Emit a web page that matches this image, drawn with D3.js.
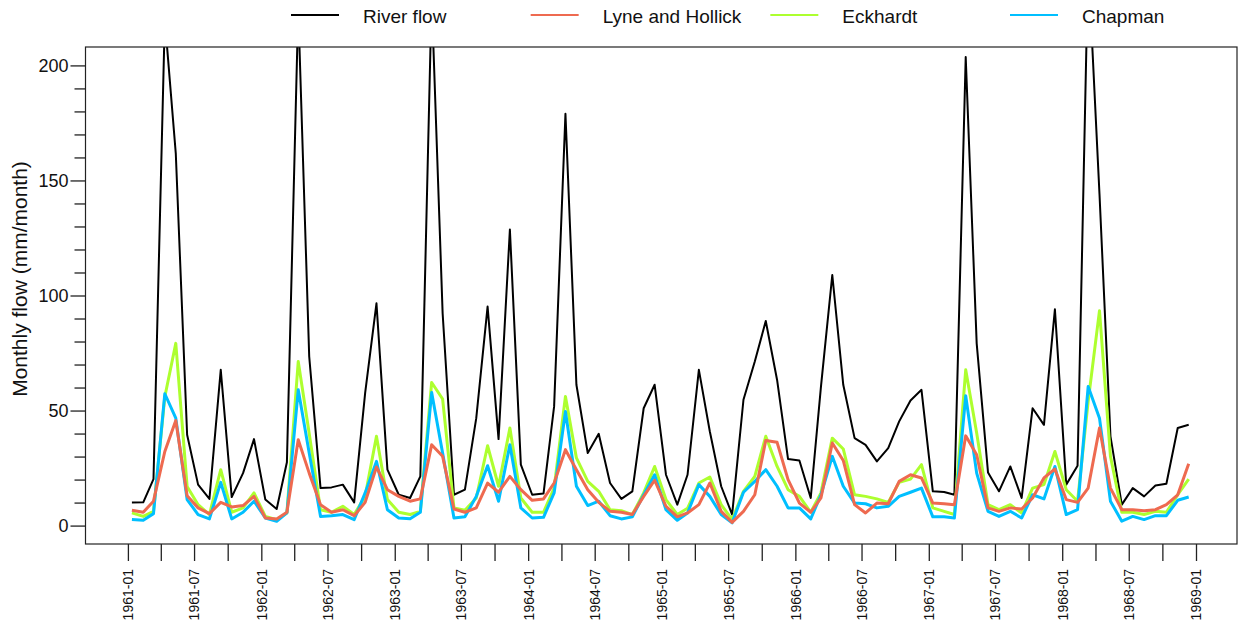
<!DOCTYPE html>
<html>
<head>
<meta charset="utf-8">
<script src="https://cdn.jsdelivr.net/npm/d3@7"></script>
<style>
  html, body { margin: 0; padding: 0; background: #fff; }
  svg { display: block; font-family: "Liberation Sans", Arial, Helvetica, sans-serif; }
</style>
</head>
<body>
<svg id="chart" width="1243" height="623"></svg>
<script>
// ---- data: monthly values, Jan 1961 .. Dec 1968 ----
const startYear = 1961;
const nMonths = 96;

const riverFlow = [
  10, 10.1, 20.2, 220, 161.7, 39.5, 17.8, 11.6, 67.7, 12.4, 22.8, 37.6,
  11.3, 7.2, 27.5, 225, 73.5, 16.3, 16.6, 17.8, 10.1, 57.6, 96.6, 24.3,
  13.4, 12.0, 21.4, 230, 92.3, 13.4, 15.6, 46.7, 95.2, 37.6, 128.7, 26.5,
  13.4, 13.9, 51.8, 179, 61.2, 31.5, 39.9, 18.5, 11.6, 14.9, 51.0, 61.2,
  22.1, 9.1, 22.1, 67.7, 40.9, 17.1, 4.8, 54.7, 71.3, 88.9, 63.3, 28.9,
  28.3, 12.0, 60.4, 108.9, 61.2, 38.0, 35.1, 27.9, 33.7, 45.3, 54.4, 59.0,
  14.9, 14.6, 13.4, 203.6, 79.2, 23.1, 14.9, 25.7, 12.0, 51.0, 43.8, 94.0,
  17.8, 26.0, 245, 144, 38.8, 9.1, 16.3, 12.7, 17.4, 18.2, 42.4, 43.8
];
const lyneHollick = [
  6.7, 5.8, 10.6, 32.2, 45.7, 13.0, 7.7, 5.2, 10.1, 8.1, 8.7, 12.7,
  3.3, 2.9, 5.8, 37.3, 22.8, 9.1, 5.8, 6.9, 4.3, 10.1, 25.5, 15.6,
  12.7, 10.6, 11.6, 35.1, 30.1, 7.2, 5.8, 7.7, 18.5, 14.5, 21.4, 15.6,
  11.0, 11.6, 18.5, 33.0, 24.3, 15.6, 10.1, 6.2, 5.8, 4.8, 12.7, 19.7,
  8.4, 3.8, 5.5, 9.1, 18.5, 6.2, 1.4, 6.2, 13.4, 37.0, 36.2, 20.0,
  9.8, 5.8, 12.0, 35.9, 28.3, 9.1, 5.5, 9.8, 9.5, 19.2, 22.1, 20.7,
  9.8, 9.5, 9.1, 39.0, 30.8, 7.7, 6.2, 7.7, 7.2, 12.0, 20.7, 24.6,
  11.3, 10.1, 16.3, 42.4, 16.3, 6.9, 6.9, 6.5, 6.9, 9.1, 13.4, 26.9
];
const eckhardt = [
  5.5, 4.0, 6.2, 56, 79.2, 17, 9.1, 4.8, 24.3, 5.8, 7.7, 14.2,
  4.0, 2.6, 5.5, 71.3, 40, 6.9, 5.8, 8.4, 4.8, 12.7, 38.8, 11.3,
  5.8, 4.8, 6.2, 62.2, 55.0, 7.7, 6.7, 12.0, 34.7, 17.1, 42.4, 12.0,
  5.8, 5.8, 16.3, 56.1, 29.4, 19.2, 14.9, 6.9, 6.5, 4.8, 14.2, 25.7,
  11.3, 4.8, 7.5, 18.5, 21.1, 9.1, 2.6, 14.9, 21.4, 38.8, 25.7, 15.6,
  12.7, 5.8, 14.2, 38.0, 33.3, 13.4, 12.7, 11.6, 10.1, 18.8, 20.2, 26.5,
  7.7, 6.2, 4.8, 67.7, 40.2, 9.1, 6.9, 9.1, 5.5, 16.3, 17.8, 32.2,
  15.6, 10.6, 54, 93.4, 30.1, 5.8, 5.8, 4.8, 6.2, 5.8, 13.4, 20.2
];
const chapman = [
  2.6, 2.3, 5.2, 57.3, 46.7, 11.3, 4.8, 2.9, 18.8, 2.9, 5.8, 10.6,
  3.3, 1.9, 5.5, 59.0, 31.5, 4.0, 4.3, 4.8, 2.6, 14.2, 27.9, 6.9,
  3.3, 3.0, 5.8, 57.8, 31.5, 3.3, 3.8, 12.7, 26.0, 10.6, 35.1, 7.7,
  3.3, 3.6, 14.2, 49.6, 17.1, 8.7, 10.6, 4.3, 2.9, 3.8, 13.4, 22.1,
  6.9, 2.3, 5.5, 17.8, 12.7, 4.8, 1.2, 14.5, 19.2, 24.3, 17.1, 7.7,
  7.7, 2.9, 13.4, 30.1, 17.1, 9.8, 9.5, 7.7, 8.4, 12.7, 14.5, 16.3,
  3.8, 3.8, 3.3, 56.4, 22.8, 6.2, 4.0, 6.2, 3.3, 13.4, 11.6, 25.7,
  4.8, 6.9, 60.4, 46.7, 10.6, 1.9, 4.0, 2.6, 4.3, 4.3, 11.0, 12.4
];

const seriesNames = ["River flow", "Lyne and Hollick", "Eckhardt", "Chapman"];
const seriesColors = ["#000000", "#EE6A50", "#ADFF2F", "#00BFFF"];
const seriesWidths = [2, 3, 3, 3];
const seriesValues = [riverFlow, lyneHollick, eckhardt, chapman];
const drawOrder = [0, 2, 3, 1];

const yTicks = d3.range(0, 201, 10);
const yLabelTicks = [0, 50, 100, 150, 200];
const yTitle = "Monthly flow (mm/month)";

// dates (middle part of each month)
const dates = d3.range(nMonths).map(i => new Date(Date.UTC(startYear, i, 12)));
const xTickDates = d3.range(0, 97, 3).map(i => new Date(Date.UTC(startYear, i, 1)));

// ---- layout ----
const svg = d3.select("#chart");
const box = { left: 85.5, right: 1237, top: 47, bottom: 544 };

const x = d3.scaleUtc()
  .domain([new Date(Date.UTC(1961, 0, 1)), new Date(Date.UTC(1969, 0, 1))])
  .range([127.9, 1196]);
const y = d3.scaleLinear().domain([-8, 208]).range([box.bottom, box.top]);

svg.append("defs").append("clipPath").attr("id", "clip")
  .append("rect")
  .attr("x", box.left).attr("y", box.top)
  .attr("width", box.right - box.left).attr("height", box.bottom - box.top);

// lines
const line = d3.line().x((d, i) => x(dates[i])).y(d => y(d));
const lg = svg.append("g").attr("clip-path", "url(#clip)");
drawOrder.forEach(k => {
  lg.append("path")
    .datum(seriesValues[k])
    .attr("d", line)
    .attr("fill", "none")
    .attr("stroke", seriesColors[k])
    .attr("stroke-width", seriesWidths[k])
    .attr("stroke-linejoin", "round");
});

// box
svg.append("rect")
  .attr("x", box.left).attr("y", box.top)
  .attr("width", box.right - box.left).attr("height", box.bottom - box.top)
  .attr("fill", "none").attr("stroke", "#222").attr("stroke-width", 1.2);

// y axis
const yAxis = d3.axisLeft(y)
  .tickValues(yTicks)
  .tickSize(11)
  .tickPadding(3)
  .tickFormat(d => yLabelTicks.includes(d) ? d : "");
const yg = svg.append("g").attr("transform", `translate(${box.left},0)`).call(yAxis);
yg.select(".domain").remove();
yg.selectAll(".tick line").attr("stroke", "#222").attr("stroke-width", 1.3)
  .attr("x2", d => yLabelTicks.includes(d) ? -15 : -11);
yg.selectAll(".tick text")
  .attr("x", -17)
  .attr("font-size", 18)
  .attr("fill", "#111")
  .attr("font-family", "Liberation Sans, Arial, sans-serif");

// x axis
const xAxis = d3.axisBottom(x)
  .tickValues(xTickDates)
  .tickSize(17)
  .tickFormat(d => (d.getUTCMonth() % 6 === 0) ? d3.utcFormat("%Y-%m")(d) : "");
const xg = svg.append("g").attr("transform", `translate(0,${box.bottom})`).call(xAxis);
xg.select(".domain").remove();
xg.selectAll(".tick line").attr("stroke", "#222").attr("stroke-width", 1.3);
xg.selectAll(".tick text")
  .attr("transform", "rotate(-90)")
  .attr("x", -25)
  .attr("y", 0)
  .attr("dy", "0.35em")
  .attr("text-anchor", "end")
  .attr("font-size", 14)
  .attr("fill", "#111")
  .attr("font-family", "Liberation Sans, Arial, sans-serif");

// y title
svg.append("text")
  .attr("transform", `translate(20,279) rotate(-90)`)
  .attr("text-anchor", "middle")
  .attr("dy", "0.35em")
  .attr("font-size", 21)
  .attr("fill", "#111")
  .text(yTitle);

// legend
const legendX = d3.scaleLinear().domain([0, 3]).range([291, 1010]);
const leg = svg.append("g");
seriesNames.forEach((name, k) => {
  const lx = legendX(k);
  leg.append("line")
    .attr("x1", lx).attr("x2", lx + 48)
    .attr("y1", 15).attr("y2", 15)
    .attr("stroke", seriesColors[k])
    .attr("stroke-width", 2);
  leg.append("text")
    .attr("x", lx + 72).attr("y", 16)
    .attr("dy", "0.35em")
    .attr("font-size", 19)
    .attr("fill", "#111")
    .text(name);
});
</script>
</body>
</html>
